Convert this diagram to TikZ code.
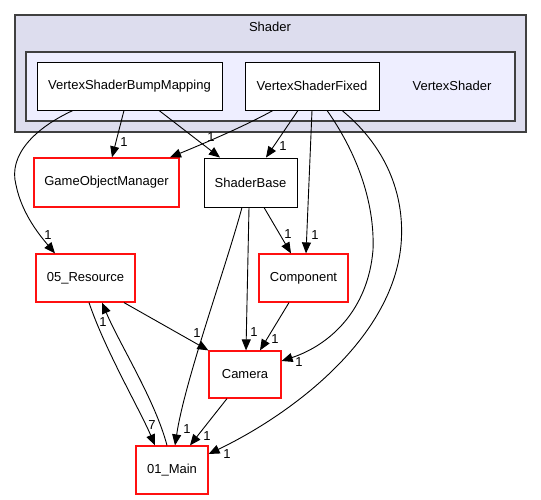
\documentclass[tikz,border=0pt]{standalone}
\usepackage{fontspec}
\setmainfont{Liberation Sans}
\usetikzlibrary{arrows.meta}
\definecolor{outerfill}{HTML}{DDDDEE}
\definecolor{innerfill}{HTML}{EEEEFF}
\definecolor{clborder}{HTML}{404040}
\definecolor{dirred}{HTML}{FF1010}
\begin{document}
\begin{tikzpicture}[x=1pt,y=-1pt,
  every node/.style={font=\fontsize{13}{15}\selectfont},
  box/.style={draw=black, line width=0.9pt, fill=white, inner sep=0pt},
  redbox/.style={draw=dirred, line width=1.2pt, fill=white, inner sep=0pt},
  cluster/.style={draw=clborder, line width=1.2pt, inner sep=0pt},
  edge/.style={draw=black, line width=0.9pt, -{Triangle[length=11pt,width=9pt]}},
  lbl/.style={inner sep=0pt}]
\useasboundingbox (0,0) rectangle (541,500);
% clusters
\node[cluster, fill=outerfill, minimum width=511pt, minimum height=117pt] (shader) at (270.5,73.5) {};
\node[inner sep=0pt] (shaderlbl) at (270,27) {Shader};
\node[cluster, fill=innerfill, minimum width=489pt, minimum height=69pt] (vs) at (270.5,86.5) {};
\node[inner sep=0pt] (vslbl) at (452,86) {VertexShader};
% nodes
\node[box, minimum width=185pt, minimum height=48pt] (bump) at (129.5,86) {VertexShaderBumpMapping};
\node[box, minimum width=134pt, minimum height=48pt] (fixed) at (312,86) {VertexShaderFixed};
\node[redbox, minimum width=145pt, minimum height=49pt] (gom) at (106.5,182.5) {GameObjectManager};
\node[box, minimum width=93pt, minimum height=49pt] (sbase) at (250.5,182.5) {ShaderBase};
\node[redbox, minimum width=99pt, minimum height=48pt] (res) at (85.5,278) {05\_Resource};
\node[redbox, minimum width=89pt, minimum height=48pt] (comp) at (303.5,278) {Component};
\node[redbox, minimum width=72pt, minimum height=47pt] (cam) at (245,374.5) {Camera};
\node[redbox, minimum width=72pt, minimum height=48pt] (main) at (172,470) {01\_Main};
% edges
\draw[edge] ([xshift=-56.5pt]bump.south) .. controls (35,128) and (8,155) .. (16,185) .. controls (22,215) and (42,238) .. ([xshift=-30.5pt]res.north);
\draw[edge] ([xshift=-5.5pt]bump.south) -- ([xshift=5.5pt]gom.north);
\draw[edge] ([xshift=29.5pt]bump.south) -- ([xshift=-30.5pt]sbase.north);
\draw[edge] ([xshift=-39pt]fixed.south) .. controls (245,126) and (205,143) .. ([xshift=63.5pt]gom.north);
\draw[edge] ([xshift=-14pt]fixed.south) -- ([xshift=15.5pt]sbase.north);
\draw[edge] (fixed.south) -- ([xshift=2.5pt]comp.north);
\draw[edge] ([xshift=15pt]fixed.south) .. controls (355,150) and (375,200) .. (373,250) .. controls (368,310) and (330,345) .. ([yshift=13.5pt]cam.east);
\draw[edge] ([xshift=30pt]fixed.south) .. controls (390,150) and (405,200) .. (401,245) .. controls (392,340) and (290,415) .. ([yshift=16pt]main.east);
\draw[edge] ([xshift=13.5pt]sbase.south) -- ([xshift=-12.5pt]comp.north);
\draw[edge] ([xshift=-1.5pt]sbase.south) -- ([xshift=1pt]cam.north);
\draw[edge] ([xshift=-8.5pt]sbase.south) .. controls (225,270) and (185,380) .. ([xshift=3pt]main.north);
\draw[edge] ([xshift=-14.5pt]comp.south) -- ([xshift=15pt]cam.north);
\draw[edge] ([xshift=38.5pt]res.south) -- (cam.north west);
\draw[edge] ([xshift=3.5pt]res.south) .. controls (105,350) and (140,410) .. ([xshift=-17pt]main.north);
\draw[edge] ([xshift=-5pt]main.north) .. controls (155,400) and (120,345) .. ([xshift=16.5pt]res.south);
\draw[edge] ([xshift=-18pt]cam.south) -- ([xshift=18pt]main.north);
% labels
\node[lbl] (l1) at (48,235) {1};
\node[lbl] (l2) at (124,142) {1};
\node[lbl] (l3) at (211,137) {1};
\node[lbl] (l4) at (283,146) {1};
\node[lbl] (l5) at (315,235) {1};
\node[lbl] (l6) at (288,234) {1};
\node[lbl] (l7) at (254,332) {1};
\node[lbl] (l8) at (275,339) {1};
\node[lbl] (l9) at (197,333) {1};
\node[lbl] (l10) at (187,429) {1};
\node[lbl] (l11) at (207,436) {1};
\node[lbl] (l12) at (227,454) {1};
\node[lbl] (l13) at (299,362) {1};
\node[lbl] (l14) at (152,425) {7};
\node[lbl] (l15) at (103,322) {1};
\end{tikzpicture}
\end{document}
